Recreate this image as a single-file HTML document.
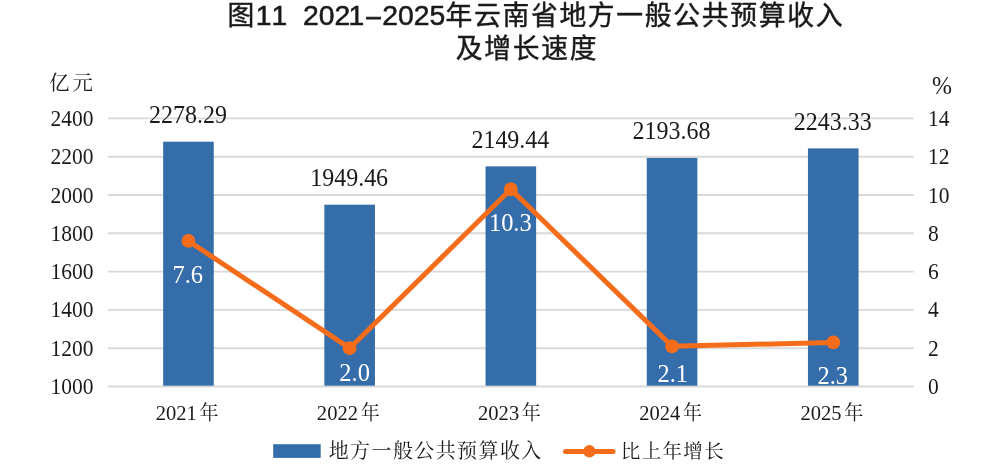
<!DOCTYPE html>
<html lang="zh"><head><meta charset="utf-8"><title>图11</title>
<style>
html,body{margin:0;padding:0;background:#fff;}
body{width:1000px;height:466px;overflow:hidden;}
svg{display:block;font-kerning:none;}
.ser{font-family:"Liberation Serif","Noto Serif CJK SC",serif;}
.san{font-family:"Liberation Sans","Noto Sans CJK SC",sans-serif;}
</style></head><body>
<svg width="1000" height="466" viewBox="0 0 1000 466">
<rect width="1000" height="466" fill="#fff"/>
<text class="san" y="25" fill="#1a1a1a" stroke="#1a1a1a" xml:space="preserve"><tspan x="227.6" font-size="26.8" letter-spacing="1.7" stroke-width="0.45">图</tspan><tspan x="255.7" y="24.9" font-size="28.3" stroke-width="0.55">11</tspan><tspan font-size="28.3" stroke-width="0.55">  </tspan><tspan x="303" y="24.9" font-size="28.3" stroke-width="0.55">202</tspan><tspan dx="-1.6" font-size="28.3" stroke-width="0.55">1</tspan><tspan x="366.6" y="24.9" font-size="25.2" stroke-width="0.9">–</tspan><tspan x="382.2" y="24.9" font-size="28.3" stroke-width="0.55">2025</tspan><tspan x="445.4" y="25" font-size="26.8" letter-spacing="1.7" stroke-width="0.45">年云南省地方一般公共预算收入</tspan></text>
<text class="san" x="455.8" y="58.2" fill="#1a1a1a" stroke="#1a1a1a" font-size="26.8" letter-spacing="1.7" stroke-width="0.45">及增长速度</text>
<line x1="107.8" x2="913.8" y1="386.50" y2="386.50" stroke="#D9D9D9" stroke-width="1.9"/>
<line x1="107.8" x2="913.8" y1="348.20" y2="348.20" stroke="#D9D9D9" stroke-width="1.9"/>
<line x1="107.8" x2="913.8" y1="309.90" y2="309.90" stroke="#D9D9D9" stroke-width="1.9"/>
<line x1="107.8" x2="913.8" y1="271.60" y2="271.60" stroke="#D9D9D9" stroke-width="1.9"/>
<line x1="107.8" x2="913.8" y1="233.30" y2="233.30" stroke="#D9D9D9" stroke-width="1.9"/>
<line x1="107.8" x2="913.8" y1="195.00" y2="195.00" stroke="#D9D9D9" stroke-width="1.9"/>
<line x1="107.8" x2="913.8" y1="156.70" y2="156.70" stroke="#D9D9D9" stroke-width="1.9"/>
<line x1="107.8" x2="913.8" y1="118.40" y2="118.40" stroke="#D9D9D9" stroke-width="1.9"/>
<rect x="163.15" y="141.71" width="50.6" height="243.99" fill="#356CAA"/>
<rect x="324.35" y="204.68" width="50.6" height="181.02" fill="#356CAA"/>
<rect x="485.55" y="166.38" width="50.6" height="219.32" fill="#356CAA"/>
<rect x="646.75" y="157.91" width="50.6" height="227.79" fill="#356CAA"/>
<rect x="807.95" y="148.40" width="50.6" height="237.30" fill="#356CAA"/>
<text class="ser" transform="translate(93.60,394.00) scale(0.935,1)" font-size="23" text-anchor="end" fill="#1a1a1a">1000</text>
<text class="ser" transform="translate(928.00,394.00) scale(0.935,1)" font-size="23" text-anchor="start" fill="#1a1a1a">0</text>
<text class="ser" transform="translate(93.60,355.70) scale(0.935,1)" font-size="23" text-anchor="end" fill="#1a1a1a">1200</text>
<text class="ser" transform="translate(928.00,355.70) scale(0.935,1)" font-size="23" text-anchor="start" fill="#1a1a1a">2</text>
<text class="ser" transform="translate(93.60,317.40) scale(0.935,1)" font-size="23" text-anchor="end" fill="#1a1a1a">1400</text>
<text class="ser" transform="translate(928.00,317.40) scale(0.935,1)" font-size="23" text-anchor="start" fill="#1a1a1a">4</text>
<text class="ser" transform="translate(93.60,279.10) scale(0.935,1)" font-size="23" text-anchor="end" fill="#1a1a1a">1600</text>
<text class="ser" transform="translate(928.00,279.10) scale(0.935,1)" font-size="23" text-anchor="start" fill="#1a1a1a">6</text>
<text class="ser" transform="translate(93.60,240.80) scale(0.935,1)" font-size="23" text-anchor="end" fill="#1a1a1a">1800</text>
<text class="ser" transform="translate(928.00,240.80) scale(0.935,1)" font-size="23" text-anchor="start" fill="#1a1a1a">8</text>
<text class="ser" transform="translate(93.60,202.50) scale(0.935,1)" font-size="23" text-anchor="end" fill="#1a1a1a">2000</text>
<text class="ser" transform="translate(928.00,202.50) scale(0.935,1)" font-size="23" text-anchor="start" fill="#1a1a1a">10</text>
<text class="ser" transform="translate(93.60,164.20) scale(0.935,1)" font-size="23" text-anchor="end" fill="#1a1a1a">2200</text>
<text class="ser" transform="translate(928.00,164.20) scale(0.935,1)" font-size="23" text-anchor="start" fill="#1a1a1a">12</text>
<text class="ser" transform="translate(93.60,125.90) scale(0.935,1)" font-size="23" text-anchor="end" fill="#1a1a1a">2400</text>
<text class="ser" transform="translate(928.00,125.90) scale(0.935,1)" font-size="23" text-anchor="start" fill="#1a1a1a">14</text>
<text class="ser" x="49.3" y="90.2" font-size="20.3" letter-spacing="3" fill="#1a1a1a">亿元</text>
<text class="ser" transform="translate(932.00,93.80) scale(0.94,1)" font-size="25.5" text-anchor="start" fill="#1a1a1a">%</text>
<text class="ser" transform="translate(155.65,419.80) scale(0.935,1)" font-size="22" text-anchor="start" fill="#1a1a1a">2021<tspan font-size="20.3" dx="2.9">年</tspan></text>
<text class="ser" transform="translate(316.85,419.80) scale(0.935,1)" font-size="22" text-anchor="start" fill="#1a1a1a">2022<tspan font-size="20.3" dx="2.9">年</tspan></text>
<text class="ser" transform="translate(478.05,419.80) scale(0.935,1)" font-size="22" text-anchor="start" fill="#1a1a1a">2023<tspan font-size="20.3" dx="2.9">年</tspan></text>
<text class="ser" transform="translate(639.25,419.80) scale(0.935,1)" font-size="22" text-anchor="start" fill="#1a1a1a">2024<tspan font-size="20.3" dx="2.9">年</tspan></text>
<text class="ser" transform="translate(800.45,419.80) scale(0.935,1)" font-size="22" text-anchor="start" fill="#1a1a1a">2025<tspan font-size="20.3" dx="2.9">年</tspan></text>
<text class="ser" transform="translate(187.95,123.01) scale(0.94,1)" font-size="25.5" text-anchor="middle" fill="#1a1a1a">2278.29</text>
<text class="ser" transform="translate(349.15,185.98) scale(0.94,1)" font-size="25.5" text-anchor="middle" fill="#1a1a1a">1949.46</text>
<text class="ser" transform="translate(510.35,147.68) scale(0.94,1)" font-size="25.5" text-anchor="middle" fill="#1a1a1a">2149.44</text>
<text class="ser" transform="translate(671.55,139.21) scale(0.94,1)" font-size="25.5" text-anchor="middle" fill="#1a1a1a">2193.68</text>
<text class="ser" transform="translate(832.75,129.70) scale(0.94,1)" font-size="25.5" text-anchor="middle" fill="#1a1a1a">2243.33</text>
<polyline fill="none" stroke="#F56D1B" stroke-width="5" stroke-linejoin="round" stroke-linecap="round" points="188.45,240.96 349.65,348.20 510.85,189.25 672.05,346.28 833.25,342.45"/>
<circle cx="188.45" cy="240.96" r="6.9" fill="#F56D1B"/>
<circle cx="349.65" cy="348.20" r="6.9" fill="#F56D1B"/>
<circle cx="510.85" cy="189.25" r="6.9" fill="#F56D1B"/>
<circle cx="672.05" cy="346.28" r="6.9" fill="#F56D1B"/>
<circle cx="833.25" cy="342.45" r="6.9" fill="#F56D1B"/>
<text class="ser" transform="translate(187.80,283.20) scale(0.96,1)" font-size="25.5" text-anchor="middle" fill="#fff">7.6</text>
<text class="ser" transform="translate(354.60,381.30) scale(0.96,1)" font-size="25.5" text-anchor="middle" fill="#fff">2.0</text>
<text class="ser" transform="translate(510.30,231.30) scale(0.96,1)" font-size="25.5" text-anchor="middle" fill="#fff">10.3</text>
<text class="ser" transform="translate(672.80,381.60) scale(0.96,1)" font-size="25.5" text-anchor="middle" fill="#fff">2.1</text>
<text class="ser" transform="translate(832.80,384.30) scale(0.96,1)" font-size="25.5" text-anchor="middle" fill="#fff">2.3</text>
<rect x="273.2" y="444.2" width="47.5" height="13.7" fill="#356CAA"/>
<text class="ser" x="328.7" y="458.2" font-size="20" letter-spacing="1.4" fill="#1a1a1a">地方一般公共预算收入</text>
<line x1="565.5" x2="613" y1="451.4" y2="451.4" stroke="#F56D1B" stroke-width="5" stroke-linecap="round"/>
<circle cx="589.4" cy="451.3" r="6.2" fill="#F56D1B"/>
<text class="ser" x="620.8" y="458.3" font-size="19.5" letter-spacing="1.35" fill="#1a1a1a">比上年增长</text>
</svg></body></html>
